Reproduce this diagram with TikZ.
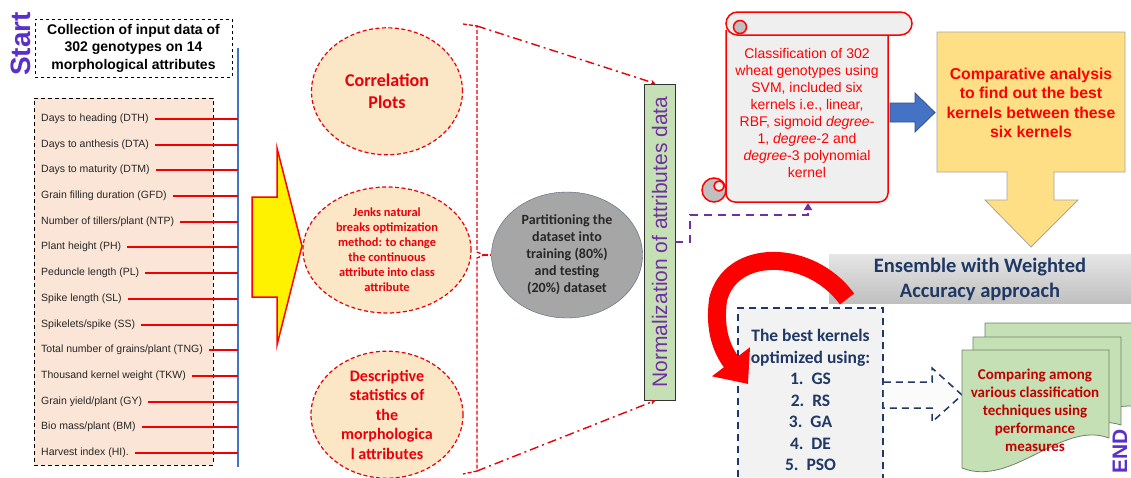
\documentclass[tikz,border=0pt]{standalone}
\usepackage{fontspec}
\setmainfont{Liberation Sans}
\newfontfamily\calibri{Carlito}
\usepackage{tikz}
\usetikzlibrary{positioning,arrows.meta,shapes.geometric}
\usepackage{xcolor}

\definecolor{peach}{HTML}{FBE5D6}
\definecolor{cream}{HTML}{FBE6C6}
\definecolor{ovalred}{HTML}{E8000B}
\definecolor{partgrey}{HTML}{A6A6A6}
\definecolor{partedge}{HTML}{56657F}
\definecolor{normgreen}{HTML}{C5E0B4}
\definecolor{normpurple}{HTML}{7030A0}
\definecolor{startblue}{HTML}{5B2FC9}
\definecolor{scrollgrey}{HTML}{EFEFEF}
\definecolor{curlgrey}{HTML}{BFBFBF}
\definecolor{kernblue}{HTML}{4472C4}
\definecolor{kernedge}{HTML}{2F528F}
\definecolor{callyellow}{HTML}{FFDF85}
\definecolor{navytext}{HTML}{1F3864}
\definecolor{boxgrey}{HTML}{F2F2F2}
\definecolor{docgreen}{HTML}{C5E0B4}
\definecolor{docedge}{HTML}{70806F}
\definecolor{docred}{HTML}{C00000}
\definecolor{listblue}{HTML}{4472C4}
\definecolor{linered}{HTML}{F00000}

\newcommand{\fsz}[2]{\fontsize{#1}{#2}\selectfont}

\begin{document}
\begin{tikzpicture}[
    x=1pt, y=-1pt,
    hdrbox/.style={
        draw, dashed, thick,
        align=center,
        minimum width=197,
        minimum height=58,
        font=\bfseries\fsz{14}{17.5}
    },
    listbox/.style={draw, dash pattern=on 4pt off 3pt, thick, fill=peach, minimum width=179, minimum height=367},
    attr/.style={anchor=west, inner xsep=6pt, inner ysep=1pt, text=black!85, font=\fsz{10.5}{12}},
    redline/.style={draw=linered, line width=2pt},
    blueline/.style={draw=listblue, line width=2pt},
    oval/.style={
        ellipse,
        draw=ovalred, dash pattern=on 4pt off 2.5pt, line width=1.2pt,
        fill=cream,
        align=center,
        text=ovalred,
        inner sep=0pt
    },
    bracket/.style={draw=ovalred, dash pattern=on 4pt off 2pt, line width=1.3pt},
    ddline/.style={draw=ovalred, line width=1.4pt, dash pattern=on 9pt off 4pt on 2pt off 4pt, -{Stealth[length=5pt,width=5pt]}},
    partoval/.style={
        ellipse,
        draw=partedge, fill=partgrey,
        minimum width=151, minimum height=126,
        align=center, inner sep=0pt,
        text=black!85,
        font=\calibri\bfseries\fsz{14}{17}
    },
    normbar/.style={draw=black!80, thick, fill=normgreen, minimum width=31, minimum height=316, inner sep=0pt, text=normpurple, font=\fsz{21}{24}},
    purpline/.style={draw=normpurple, line width=2pt, dash pattern=on 8pt off 6pt, -{Triangle[length=7pt,width=8pt]}},
    scroll/.style={draw=red, line width=1.5pt, fill=scrollgrey},
    scrolltxt/.style={align=center, text=red, font=\fsz{14}{17}},
    kernarrow/.style={draw=kernedge, fill=kernblue, line width=0.8pt},
    callout/.style={draw=gray!70, fill=callyellow, line width=0.8pt},
    calltxt/.style={align=center, text=red, font=\bfseries\fsz{15.8}{19.5}},
    banner/.style={
        minimum width=302, minimum height=48,
        top color=gray!20, bottom color=gray!50,
        align=center, text=navytext,
        font=\calibri\bfseries\fsz{20.5}{25}
    },
    bestbox/.style={
        draw=navytext, dash pattern=on 7pt off 5pt, line width=1.5pt,
        fill=boxgrey,
        minimum width=145, minimum height=184,
        align=center, text=navytext,
        font=\calibri\bfseries\fsz{17.5}{21.5}
    },
    hollowarrow/.style={draw=navytext, dash pattern=on 7pt off 5pt, line width=1.5pt},
    doc/.style={draw=docedge, fill=docgreen, line width=0.8pt},
    doctxt/.style={align=center, text=docred, font=\calibri\bfseries\fsz{15}{18}},
    sidelabel/.style={rotate=90, text=startblue, font=\bfseries\fsz{28}{30}},
    bigcurve/.style={draw=red, line width=18pt, -{Triangle[length=28pt,width=46pt]}}
]
\fill[white] (0,0) rectangle (1131,477);
\useasboundingbox (0,0) rectangle (1131,477);

% input data
\node[sidelabel] (start) at (21,44) {Start};
\node[hdrbox] (collect) at (133.5,48) {Collection of input data of\\302 genotypes on 14\\morphological attributes};

\node[listbox] (attrs) at (123.5,281.5) {};
\coordinate (vtop) at (238,48);
\coordinate (vbot) at (238,467);
\draw[blueline] (vtop) -- (vbot);

\foreach \lab [count=\i] in {Days to heading (DTH), Days to anthesis (DTA), Days to maturity (DTM),
    Grain filling duration (GFD), Number of tillers/plant (NTP), Plant height (PH), Peduncle length (PL),
    Spike length (SL), Spikelets/spike (SS), Total number of grains/plant (TNG), Thousand kernel weight (TKW),
    Grain yield/plant (GY), Bio mass/plant (BM), Harvest index (HI).}
    \node[attr] (a\i) at (35,{round(119+25.7*(\i-1))}) {\lab};
\foreach \i in {1,...,14}
    \draw[redline] (a\i.east) -- (a\i.east -| vtop);

% big yellow arrow
\draw[draw=red, line width=1.5pt, fill=yellow] (252,197) -- (277,197) -- (277,148) -- (302,246)
    -- (277,345) -- (277,297) -- (252,297) -- cycle;

% preprocessing ovals
\node[oval, minimum width=168, minimum height=126, font=\calibri\bfseries\fsz{12.4}{15}] (jenks) at (387,250)
    {Jenks natural\\breaks optimization\\method: to change\\the continuous\\attribute into class\\attribute};
\node[oval, minimum width=151, minimum height=127, font=\calibri\bfseries\fsz{18}{22}, above=31pt of jenks] (corr)
    {Correlation\\Plots};
\node[oval, minimum width=152, minimum height=127, inner sep=-3pt, font=\calibri\bfseries\fsz{16}{19.5}, below=37pt of jenks] (desc)
    {Descriptive\\statistics of\\the\\morphologica\\l attributes};

\node[partoval] (part) at (567,255) {Partitioning the\\dataset into\\training (80\%)\\and testing\\(20\%) dataset};
\node[normbar] (norm) at (659.5,242) {\rotatebox{90}{Normalization of attributes data}};

\coordinate (brtop) at (477,26);
\coordinate (brmid) at (484,255);
\coordinate (brbot) at (477,471);
\draw[bracket] (463,24) -- (brtop) -- (477,252) -- (brmid) -- (477,258) -- (brbot) -- (463,474);
\draw[bracket] (brmid) -- (part.west);
\draw[ddline] (brtop) -- ([xshift=-4pt]norm.north);
\draw[ddline] (brbot) -- ([xshift=-4pt]norm.south);

% SVM scroll
\draw[scroll, rounded corners=9pt] (726,30) -- (726,202) -- (888,202) -- (888,30);
\draw[scroll, rounded corners=11.5pt] (726,12) rectangle (912,35);
\draw[scroll, fill=curlgrey] (740,27) circle[radius=6.5];
\draw[scroll, fill=curlgrey] (714,190) circle[radius=12];
\draw[scroll] (719,186) circle[radius=5];
\node[scrolltxt] (svm) at (807,113) {Classification of 302\\wheat genotypes using\\SVM, included six\\kernels i.e., linear,\\RBF, sigmoid \textit{degree-}\\1, \textit{degree}-2 and\\\textit{degree}-3 polynomial\\kernel};
\coordinate (scrollbot) at (808,203);
\draw[purpline] (norm.east) -- ++(15,0) -- ++(0,-27) -| (scrollbot);

\draw[kernarrow] (890,103) -- (915,103) -- (915,93) -- (935,112.5) -- (915,132) -- (915,122) -- (890,122) -- cycle;

% comparative analysis
\draw[callout] (937,32) -- (1125,32) -- (1125,172) -- (1054,172) -- (1054,200) -- (1078,200) -- (1031,247)
    -- (985,200) -- (1007,200) -- (1007,172) -- (937,172) -- cycle;
\node[calltxt] (cmp) at (1031,103) {Comparative analysis\\to find out the best\\kernels between these\\six kernels};

\node[banner] (ens) at (980,279) {Ensemble with Weighted\\Accuracy approach};

\node[bestbox] (best) at (810.5,400) {The best kernels\\optimized using:\\1.\ \ GS\\2.\ \ RS\\3.\ \ GA\\4.\ \ DE\\5.\ \ PSO};

\fill[white!97!gray] (best.east |- 0,382) -- (932,382) -- (932,368) -- (962,395) -- (932,422) -- (932,408) -- (best.east |- 0,408) -- cycle;
\draw[hollowarrow] (best.east |- 0,382) -- (932,382) -- (932,368) -- (962,395) -- (932,422) -- (932,408) -- (best.east |- 0,408);

% stacked documents
\draw[doc] (985,323) -- (1145,323) -- (1145,408) .. controls (1100,395) and (1040,450) .. (985,432) -- cycle;
\draw[doc] (973,337) -- (1121,337) -- (1121,425) .. controls (1075,410) and (1020,465) .. (973,450) -- cycle;
\draw[doc] (962,350) -- (1109,350) -- (1109,438) .. controls (1062,420) and (1012,488) .. (962,468) -- cycle;
\node[doctxt] (cmpr) at (1035,410) {Comparing among\\various classification\\techniques using\\performance\\measures};

\node[sidelabel, font=\bfseries\fsz{21}{24}] (endlbl) at (1120,451) {END};

% red curved arrow
\coordinate (curvtail) at (847,299);
\coordinate (curvhead) at (748,384);
\draw[bigcurve] (curvtail) .. controls (810,248) and (730,248) .. (718,300) .. controls (714,330) and (722,350) .. (curvhead);

\end{tikzpicture}
\end{document}
